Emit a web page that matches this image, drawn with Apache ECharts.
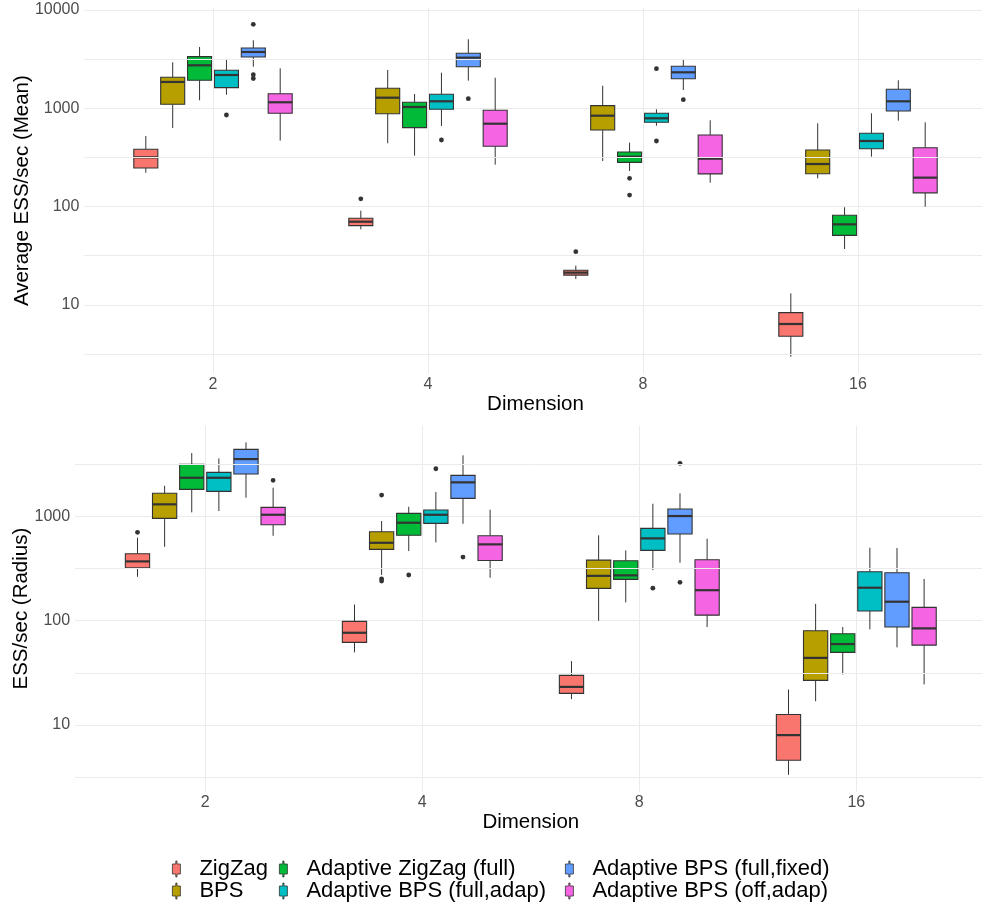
<!DOCTYPE html>
<html>
<head>
<meta charset="utf-8">
<script src="https://cdn.jsdelivr.net/npm/echarts@6/dist/echarts.min.js"></script>
<style>
html,body{margin:0;padding:0;background:#fff;}
#chart{width:982px;height:909px;}
</style>
</head>
<body>
<div id="chart"></div>
<script>
// ---- categories / labels ----
const dims = ['2', '4', '8', '16'];
const methods = ['ZigZag', 'BPS', 'Adaptive ZigZag (full)', 'Adaptive BPS (full,adap)', 'Adaptive BPS (full,fixed)', 'Adaptive BPS (off,adap)'];
const majorTicks = [10, 100, 1000, 10000];
const minorBreaks = [3.1623, 31.623, 316.23, 3162.3];

// ---- Top panel: Average ESS/sec (Mean); each row = [lower whisker, Q1, median, Q3, upper whisker] for dims 2,4,8,16 ----
const meanZigZag  = [[221, 247, 317, 383, 523], [58.7, 64, 70.2, 76, 90.8], [18.3, 20.1, 21.3, 22.5, 25.1], [2.97, 4.8, 6.39, 8.34, 13.1]];
const meanBPS     = [[631, 1099, 1853, 2066, 2938], [441, 881, 1282, 1597, 2455], [291, 601, 841, 1064, 1699], [194, 216, 271, 376, 703]];
const meanAZZ     = [[1206, 1928, 2737, 3350, 4204], [330, 635, 1031, 1151, 1397], [230, 282, 322, 359, 447], [37, 51, 66, 81.5, 98.4]];
const meanFullAdap  = [[1376, 1622, 2181, 2434, 3124], [661, 977, 1178, 1387, 2301], [665, 720, 791, 890, 977], [322, 388, 465, 557, 889]];
const meanFullFixed = [[2649, 3325, 3740, 4105, 4920], [1910, 2649, 3273, 3624, 5036], [1535, 2000, 2323, 2675, 3150], [748, 939, 1178, 1560, 1927]];
const meanOffAdap   = [[469, 889, 1151, 1408, 2552], [267, 411, 697, 955, 2049], [175, 215, 307, 535, 755], [99.8, 138, 197, 397, 720]];
// outliers per dim
const meanZigZagOut    = [[], [120], [34.8], []];
const meanBPSOut       = [[], [], [], []];
const meanAZZOut       = [[], [], [194, 131], []];
const meanFullAdapOut  = [[855], [476], [2530, 465], []];
const meanFullFixedOut = [[7150, 2200, 2010], [1252], [1224], []];
const meanOffAdapOut   = [[], [], [], []];

// ---- Bottom panel: ESS/sec (Radius) ----
const radZigZag  = [[263, 322, 370, 438, 624], [49.7, 62, 76.6, 98.4, 143], [17.7, 20.1, 23.2, 29.9, 41], [3.33, 4.6, 8.0, 12.6, 21.9]];
const radBPS     = [[511, 957, 1304, 1663, 1965], [275, 483, 558, 711, 902], [99.8, 204, 269, 381, 658], [16.9, 26.8, 44, 80, 145]];
const radAZZ     = [[1092, 1815, 2344, 3152, 4045], [465, 658, 869, 1069, 1236], [150, 249, 272, 375, 472], [30.5, 49.7, 59.7, 74.9, 87]];
const radFullAdap  = [[1124, 1737, 2344, 2642, 3597], [563, 857, 1036, 1149, 1710], [305, 472, 615, 767, 1321], [82.6, 124, 207, 294, 500]];
const radFullFixed = [[1508, 2545, 3540, 4385, 5120], [849, 1488, 2118, 2472, 3846], [359, 677, 1007, 1175, 1663], [55.5, 87, 152, 288, 497]];
const radOffAdap   = [[651, 830, 1036, 1219, 1880], [258, 378, 539, 651, 1157], [86.9, 113, 196, 384, 610], [24.5, 58.3, 84.4, 134, 251]];
const radZigZagOut    = [[703], [], [], []];
const radBPSOut       = [[], [1600, 252, 240], [], []];
const radAZZOut       = [[], [274], [], []];
const radFullAdapOut  = [[], [2860], [205], []];
const radFullFixedOut = [[], [407], [3221, 233], []];
const radOffAdapOut   = [[2213], [], [], []];

// ---- styles ----
const palette = ['#F8766D', '#B79F00', '#00BA38', '#00BFC4', '#619CFF', '#F564E3'];
const FONT = '"Liberation Sans", Arial, Helvetica, sans-serif';
const GRID_COLOR = '#EBEBEB';
const INK = '#333333';

const panels = [
  {
    boxes: [meanZigZag, meanBPS, meanAZZ, meanFullAdap, meanFullFixed, meanOffAdap],
    outs: [meanZigZagOut, meanBPSOut, meanAZZOut, meanFullAdapOut, meanFullFixedOut, meanOffAdapOut],
    yName: 'Average ESS/sec (Mean)', ymin: 2.0, ymax: 10550,
    top: 7.7, height: 365.9, bgLeft: 84.4, mainLeft: 105.5, mainWidth: 860, nameGap: 52
  },
  {
    boxes: [radZigZag, radBPS, radAZZ, radFullAdap, radFullFixed, radOffAdap],
    outs: [radZigZagOut, radBPSOut, radAZZOut, radFullAdapOut, radFullFixedOut, radOffAdapOut],
    yName: 'ESS/sec (Radius)', ymin: 2.31, ymax: 7380,
    top: 425.8, height: 365.6, bgLeft: 75.1, mainLeft: 96.8, mainWidth: 868, nameGap: 43
  }
];

function isMajor(v) {
  for (const t of majorTicks) { if (Math.abs(v - t) / t < 1e-6) return String(t); }
  return '';
}

function makeBoxRender(k) {
  return function (params, api) {
    const cat = api.value(0);
    const band = api.size([1, 0])[0];
    const slot = band / 8;
    const dx = (k - 2.5) * slot;
    const hw = slot * 0.447;
    const pMed = api.coord([cat, api.value(3)]);
    const cx = pMed[0] + dx;
    const yLow = api.coord([cat, api.value(1)])[1];
    const yQ1 = api.coord([cat, api.value(2)])[1];
    const yMed = pMed[1];
    const yQ3 = api.coord([cat, api.value(4)])[1];
    const yHigh = api.coord([cat, api.value(5)])[1];
    const color = api.visual('color');
    return {
      type: 'group',
      children: [
        { type: 'line', shape: { x1: cx, y1: yHigh, x2: cx, y2: yQ3 }, style: { stroke: INK, lineWidth: 1 } },
        { type: 'line', shape: { x1: cx, y1: yQ1, x2: cx, y2: yLow }, style: { stroke: INK, lineWidth: 1 } },
        { type: 'rect', shape: { x: cx - hw, y: yQ3, width: 2 * hw, height: yQ1 - yQ3 }, style: { fill: color, stroke: INK, lineWidth: 1.1 } },
        { type: 'line', shape: { x1: cx - hw, y1: yMed, x2: cx + hw, y2: yMed }, style: { stroke: INK, lineWidth: 2.2 } }
      ]
    };
  };
}

function makeOutRender(k) {
  return function (params, api) {
    const cat = api.value(0);
    const p = api.coord([cat, api.value(1)]);
    const slot = api.size([1, 0])[0] / 8;
    return { type: 'circle', shape: { cx: p[0] + (k - 2.5) * slot, cy: p[1], r: 2.4 }, style: { fill: INK } };
  };
}

const grid = [], xAxis = [], yAxis = [];
const boxSeries = [], otherSeries = [];

panels.forEach(function (P, p) {
  const bg = 2 * p, mn = 2 * p + 1;
  grid.push({ left: P.bgLeft, right: 0, top: P.top, height: P.height, containLabel: false, outerBoundsMode: 'none' });
  grid.push({ left: P.mainLeft, width: P.mainWidth, top: P.top, height: P.height, containLabel: false, outerBoundsMode: 'none' });

  xAxis.push({ type: 'value', gridIndex: bg, min: 0, max: 1, show: false });
  xAxis.push({
    type: 'category', gridIndex: mn, data: dims, boundaryGap: true,
    axisLine: { show: false }, axisTick: { show: false }, splitLine: { show: false },
    axisLabel: { color: '#4D4D4D', fontSize: 16, fontFamily: FONT, margin: 3 },
    name: 'Dimension', nameLocation: 'middle', nameGap: 20, nameMoveOverlap: false,
    nameTextStyle: { color: '#000', fontSize: 20.5, fontFamily: FONT }
  });

  yAxis.push({
    type: 'log', logBase: 10, gridIndex: bg, min: P.ymin, max: P.ymax,
    axisLine: { show: false }, axisTick: { show: false },
    axisLabel: { color: '#4D4D4D', fontSize: 16, fontFamily: FONT, margin: 5, formatter: isMajor, showMinLabel: false, showMaxLabel: false },
    splitLine: { show: true, showMinLine: false, showMaxLine: false, lineStyle: { color: GRID_COLOR, width: 1 } },
    name: P.yName, nameLocation: 'middle', nameGap: P.nameGap, nameMoveOverlap: false,
    nameTextStyle: { color: '#000', fontSize: 20.5, fontFamily: FONT }
  });
  yAxis.push({ type: 'log', logBase: 10, gridIndex: mn, min: P.ymin, max: P.ymax, show: false });

  // minor horizontal gridlines
  otherSeries.push({
    type: 'line', name: 'minorgrid' + p, xAxisIndex: bg, yAxisIndex: bg, data: [], z: 0, silent: true,
    markLine: {
      silent: true, symbol: ['none', 'none'], animation: false, label: { show: false },
      lineStyle: { color: GRID_COLOR, width: 1, type: 'solid' },
      emphasis: { disabled: true },
      data: minorBreaks.map(function (v) { return { yAxis: v }; })
    }
  });
  // vertical gridlines at categories
  otherSeries.push({
    type: 'line', name: 'vgrid' + p, xAxisIndex: mn, yAxisIndex: mn, data: [], z: 0, silent: true,
    markLine: {
      silent: true, symbol: ['none', 'none'], animation: false, label: { show: false },
      lineStyle: { color: GRID_COLOR, width: 1, type: 'solid' },
      emphasis: { disabled: true },
      data: dims.map(function (d) { return { xAxis: d }; })
    }
  });

  methods.forEach(function (m, k) {
    boxSeries.push({
      type: 'custom', name: m, xAxisIndex: mn, yAxisIndex: mn, z: 3,
      itemStyle: { color: palette[k] },
      encode: { x: 0, y: [1, 2, 3, 4, 5] },
      renderItem: makeBoxRender(k),
      data: P.boxes[k].map(function (b, i) { return [i].concat(b); })
    });
    const od = [];
    P.outs[k].forEach(function (arr, i) { arr.forEach(function (v) { od.push([i, v]); }); });
    otherSeries.push({
      type: 'custom', name: m + ' outliers', xAxisIndex: mn, yAxisIndex: mn, z: 4,
      itemStyle: { color: INK },
      encode: { x: 0, y: 1 },
      renderItem: makeOutRender(k),
      data: od
    });
  });
});

const legendIcon = 'path://M3.4,0L4.6,0L4.6,3L8,3L8,13L4.6,13L4.6,16L3.4,16L3.4,13L0,13L0,3L3.4,3Z';
const legendCommon = {
  orient: 'vertical', top: 858, padding: 0, itemGap: 0,
  itemWidth: 36, itemHeight: 16, icon: legendIcon, symbolKeepAspect: true,
  itemStyle: { borderColor: INK, borderWidth: 0.8 },
  textStyle: { color: '#000', fontSize: 22, fontFamily: FONT, lineHeight: 21 },
  selectedMode: false
};
const legend = [
  Object.assign({}, legendCommon, { left: 172, data: [methods[0], methods[1]] }),
  Object.assign({}, legendCommon, { left: 279, data: [methods[2], methods[3]] }),
  Object.assign({}, legendCommon, { left: 565, data: [methods[4], methods[5]] })
];

const chart = echarts.init(document.getElementById('chart'), null, { renderer: 'canvas' });
chart.setOption({
  backgroundColor: '#FFFFFF',
  animation: false,
  textStyle: { fontFamily: FONT },
  grid: grid,
  xAxis: xAxis,
  yAxis: yAxis,
  legend: legend,
  series: boxSeries.concat(otherSeries)
});
</script>
</body>
</html>
